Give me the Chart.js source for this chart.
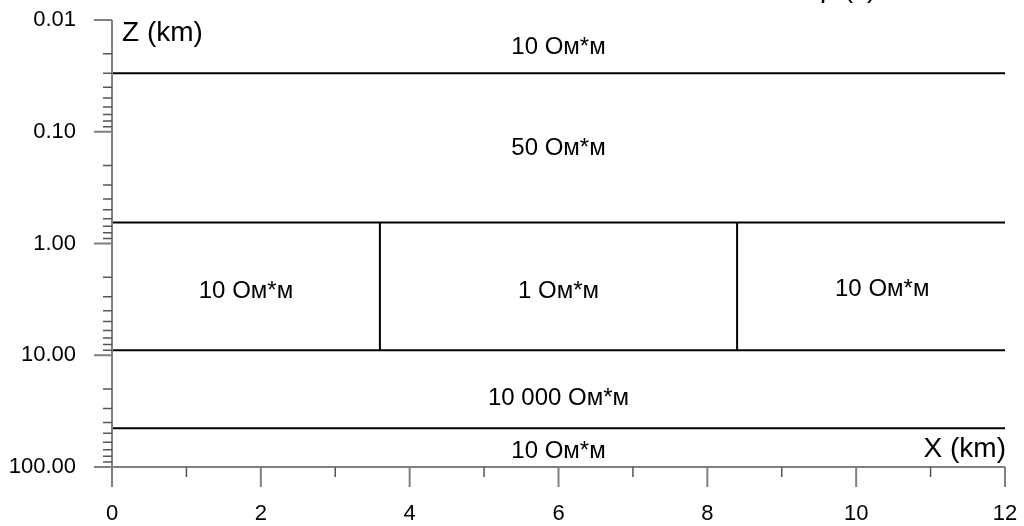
<!DOCTYPE html>
<html>
<head>
<meta charset="utf-8">
<script src="https://cdn.jsdelivr.net/npm/chart.js@4/dist/chart.umd.min.js"></script>
<style>
html,body{margin:0;padding:0;background:#fff;}
#wrap{width:1024px;height:526px;position:relative;}
</style>
</head>
<body>
<div id="wrap"><canvas id="c"></canvas></div>
<script>
// ---- data ----
const boundaryDepths = [0.03, 0.65, 9, 45];       // km, horizontal layer boundaries
const blockEdges = [3.6, 8.4];                     // km, vertical edges of conductive block
const blockTop = 0.65, blockBottom = 9;            // km
const xRange = [0, 12];
const zRange = [0.01, 100];
const layerLabels = ['10 Ом*м', '50 Ом*м', '10 Ом*м', '1 Ом*м', '10 Ом*м', '10 000 Ом*м', '10 Ом*м'];
const labelX = [6, 6, 1.8, 6, 10.35, 6, 6];
const labelZ = [0.0174, 0.142, 2.7, 2.7, 2.6, 24.5, 72];
const xTicks = [0, 2, 4, 6, 8, 10, 12];
const xMinorTicks = [1, 3, 5, 7, 9, 11];
const zTicks = [0.01, 0.1, 1, 10, 100];
const zTickLabels = ['0.01', '0.10', '1.00', '10.00', '100.00'];
const xTitle = 'X (km)', zTitle = 'Z (km)', topTitle = 'ρ (z)';

const FONT = '"Liberation Sans", Arial, sans-serif';

const datasets = [];
boundaryDepths.forEach(d => datasets.push({
  data: [{x: xRange[0], y: d}, {x: xRange[1], y: d}],
  showLine: true, borderColor: '#000', borderWidth: 2, pointRadius: 0, fill: false
}));
blockEdges.forEach(e => datasets.push({
  data: [{x: e, y: blockTop}, {x: e, y: blockBottom}],
  showLine: true, borderColor: '#000', borderWidth: 2, pointRadius: 0, fill: false
}));

const axesPlugin = {
  id: 'geoAxes',
  afterDraw(chart) {
    const ctx = chart.ctx, xs = chart.scales.x, ys = chart.scales.y;
    const ca = chart.chartArea;
    ctx.save();
    // layer labels
    ctx.fillStyle = '#000';
    ctx.font = '24px ' + FONT;
    ctx.textAlign = 'center';
    ctx.textBaseline = 'middle';
    layerLabels.forEach((t, i) => ctx.fillText(t, xs.getPixelForValue(labelX[i]), ys.getPixelForValue(labelZ[i])));

    // axis lines
    ctx.strokeStyle = '#808080';
    ctx.lineWidth = 2;
    const x0 = xs.getPixelForValue(xRange[0]);
    const yB = ys.getPixelForValue(zRange[1]);
    const yT = ys.getPixelForValue(zRange[0]);
    ctx.beginPath();
    ctx.moveTo(x0, yT); ctx.lineTo(x0, yB + 20);
    ctx.moveTo(x0 - 18, yB); ctx.lineTo(xs.getPixelForValue(xRange[1]), yB);
    ctx.stroke();

    // y major ticks
    ctx.beginPath();
    zTicks.forEach(v => { const y = ys.getPixelForValue(v); ctx.moveTo(x0 - 18, y); ctx.lineTo(x0, y); });
    ctx.stroke();
    // y minor ticks
    ctx.strokeStyle = '#555';
    ctx.lineWidth = 1.5;
    ctx.beginPath();
    for (let k = 0; k < zTicks.length - 1; k++) {
      for (let m = 2; m <= 9; m++) {
        const y = ys.getPixelForValue(zTicks[k] * m);
        ctx.moveTo(x0 - 9, y); ctx.lineTo(x0, y);
      }
    }
    ctx.stroke();
    // x ticks
    ctx.strokeStyle = '#808080';
    ctx.lineWidth = 2;
    ctx.beginPath();
    xTicks.forEach(v => { const x = xs.getPixelForValue(v); ctx.moveTo(x, yB); ctx.lineTo(x, yB + 20); });
    ctx.stroke();
    ctx.strokeStyle = '#555';
    ctx.lineWidth = 1.5;
    ctx.beginPath();
    xMinorTicks.forEach(v => { const x = xs.getPixelForValue(v); ctx.moveTo(x, yB); ctx.lineTo(x, yB + 10); });
    ctx.stroke();

    // tick labels
    ctx.fillStyle = '#000';
    ctx.font = '22px ' + FONT;
    ctx.textAlign = 'right';
    ctx.textBaseline = 'middle';
    zTicks.forEach((v, i) => ctx.fillText(zTickLabels[i], x0 - 36, ys.getPixelForValue(v)));
    ctx.textAlign = 'center';
    xTicks.forEach(v => ctx.fillText(String(v), xs.getPixelForValue(v), yB + 47));

    // axis titles
    ctx.font = '28px ' + FONT;
    ctx.textAlign = 'left';
    ctx.textBaseline = 'alphabetic';
    ctx.fillText(zTitle, x0 + 10, yT + 21);
    ctx.textAlign = 'right';
    ctx.fillText(xTitle, ca.right + 1, yB - 10);
    ctx.textAlign = 'left';
    ctx.fillText(topTitle, 820, -3);
    ctx.restore();
  }
};

new Chart(document.getElementById('c'), {
  type: 'scatter',
  data: { datasets },
  options: {
    responsive: true,
    maintainAspectRatio: false,
    animation: false,
    layout: { padding: { left: 112, right: 19, top: 20, bottom: 59 } },
    plugins: { legend: { display: false }, tooltip: { enabled: false } },
    scales: {
      x: { type: 'linear', min: xRange[0], max: xRange[1], display: false },
      y: { type: 'logarithmic', min: zRange[0], max: zRange[1], reverse: true, display: false }
    }
  },
  plugins: [axesPlugin]
});
</script>
</body>
</html>
